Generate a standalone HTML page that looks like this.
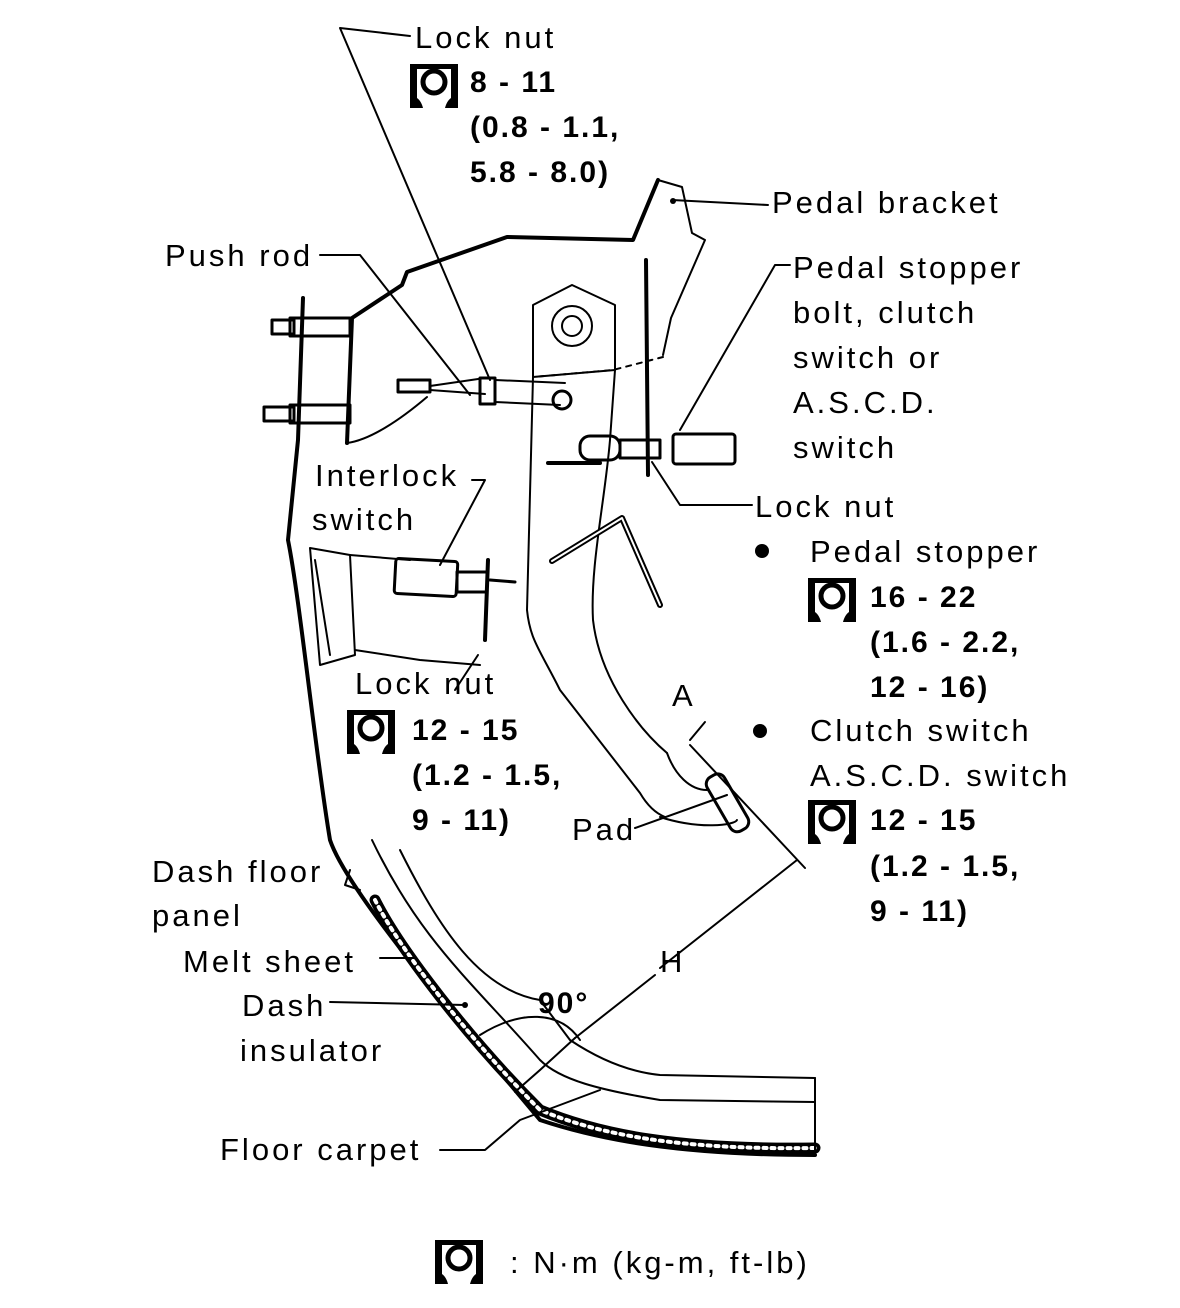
<!DOCTYPE html>
<html><head><meta charset="utf-8"><style>
html,body{margin:0;padding:0;background:#fff}
svg{display:block}
text{font-family:"Liberation Sans",sans-serif;font-size:31px;letter-spacing:3px;fill:#000}
.b{font-weight:bold;font-size:30px;letter-spacing:2px}
</style></head><body>
<svg width="1180" height="1308" viewBox="0 0 1180 1308" xmlns="http://www.w3.org/2000/svg">
<defs>
<g id="tq">
<rect x="0" y="0" width="48" height="44" fill="#000"/>
<path d="M7 5 H41 V34 C38 36 36 40 35 44 H13 C12 40 10 36 7 34 Z" fill="#fff"/>
<circle cx="24" cy="18" r="11" fill="none" stroke="#000" stroke-width="5"/>
</g>
</defs>
<g fill="none" stroke="#000" stroke-linecap="round" stroke-linejoin="round">
<path d="M347 443 L352 318 L402 285 L407 272 L507 237 L633 240 L658 180" stroke-width="4"/>
<path d="M658 180 L682 187 L692 233 L705 240 L671 318 L663 355" stroke-width="2"/>
<path d="M663 357 L613 370 L533 377" stroke-width="2" stroke-dasharray="5,6"/>
<path d="M347 443 C370 440 400 420 427 397" stroke-width="2"/>
<path d="M303 298 L298 440 L288 540 C300 600 315 750 330 840 C340 870 380 930 540 1120 C600 1140 680 1155 815 1155" stroke-width="4"/>
<path d="M375 900 C400 950 470 1040 540 1110 C600 1135 680 1150 815 1148" stroke-width="11"/>
<path d="M375 900 C400 950 470 1040 540 1110 C600 1135 680 1150 815 1148" stroke="#fff" stroke-width="4" stroke-dasharray="3,5"/>
<rect x="290" y="318" width="60" height="18" stroke-width="3"/>
<rect x="290" y="405" width="60" height="18" stroke-width="3"/>
<rect x="272" y="320" width="22" height="14" stroke-width="3"/>
<rect x="264" y="407" width="30" height="14" stroke-width="3"/>
<path d="M400 850 C440 930 480 990 540 1000 L570 1040 C600 1060 630 1072 660 1075 L815 1078" stroke-width="2"/>
<path d="M372 840 C420 940 470 980 540 1060 C560 1080 600 1090 660 1100 L815 1102" stroke-width="2"/>
<path d="M815 1078 L815 1155" stroke-width="2"/>
<path d="M533 305 L572 285 L615 305 L615 370 L533 377 Z" stroke-width="2"/>
<circle cx="572" cy="326" r="20" stroke-width="2"/>
<circle cx="572" cy="326" r="10" stroke-width="2"/>
<path d="M533 377 L527 610 C530 640 540 650 560 690 L640 793 C650 810 660 815 665 817" stroke-width="2"/>
<path d="M615 370 L610 440 C605 500 590 567 593 620 C600 680 640 730 667 753" stroke-width="2"/>
<path d="M667 753 C675 775 690 790 707 790" stroke-width="2"/>
<path d="M660 817 C700 830 735 825 737 820" stroke-width="2"/>
<rect x="-10" y="-30" width="20" height="62" rx="8" transform="translate(727 802) rotate(-30)" stroke-width="3"/>
<path d="M398 380 L430 380 L430 392 L398 392 Z" stroke-width="3"/>
<path d="M430 386 L485 378 M430 390 L485 394" stroke-width="2"/>
<rect x="480" y="378" width="15" height="26" stroke-width="3"/>
<path d="M495 380 L565 383 M495 402 L560 405" stroke-width="2"/>
<circle cx="562" cy="400" r="9" stroke-width="3"/>
<path d="M646 260 L648 475" stroke-width="4"/>
<path d="M548 463 L600 463" stroke-width="4"/>
<rect x="580" y="436" width="40" height="24" rx="10" stroke-width="3"/>
<rect x="620" y="440" width="40" height="18" stroke-width="3"/>
<rect x="673" y="434" width="62" height="30" rx="3" stroke-width="3"/>
<path d="M552 561 L622 518 L660 605" stroke-width="6"/>
<path d="M552 561 L622 518 L660 605" stroke="#fff" stroke-width="2"/>
<path d="M310 548 L350 555 L355 655 L320 665 Z" stroke-width="2"/>
<path d="M315 560 L330 655" stroke-width="2"/>
<path d="M350 555 L410 560 M355 650 L420 660 L480 665" stroke-width="2"/>
<rect x="395" y="560" width="62" height="35" rx="3" stroke-width="3" transform="rotate(3 426 577)"/>
<rect x="457" y="572" width="30" height="20" stroke-width="3"/>
<path d="M488 560 L485 640" stroke-width="4"/>
<path d="M490 580 L515 582" stroke-width="3"/>
<g stroke-width="2">
<path d="M410 36 L340 28 M340 28 L490 380"/>
<path d="M768 205 L672 200"/>
<path d="M320 255 L360 255 L470 395"/>
<path d="M790 265 L775 265 L680 430"/>
<path d="M752 505 L680 505 L652 462"/>
<path d="M472 480 L485 480 L440 565"/>
<path d="M478 655 L455 690"/>
<path d="M350 870 L345 885 L360 890"/>
<path d="M380 958 L415 958"/>
<path d="M330 1002 L465 1005"/>
<path d="M440 1150 L485 1150 L520 1120 L600 1090"/>
<path d="M635 828 L727 795"/>
<path d="M690 745 L805 868"/>
<path d="M797 860 L660 968 M575 1038 L655 975"/>
<path d="M575 1038 L540 1070 L515 1092"/>
<path d="M690 740 L705 722"/>
<path d="M480 1035 C520 1010 560 1010 580 1040"/>
</g>
</g>
<circle cx="762" cy="551" r="7"/>
<circle cx="760" cy="731" r="7"/>
<circle cx="673" cy="201" r="3"/>
<circle cx="465" cy="1005" r="3"/>
<text x="415" y="48">Lock nut</text>
<use href="#tq" x="410" y="64"/>
<text class="b" x="470" y="92">8 - 11</text>
<text class="b" x="470" y="137">(0.8 - 1.1,</text>
<text class="b" x="470" y="182">5.8 - 8.0)</text>
<text x="772" y="213">Pedal bracket</text>
<text x="165" y="266">Push rod</text>
<text x="793" y="278">Pedal stopper</text>
<text x="793" y="323">bolt, clutch</text>
<text x="793" y="368">switch or</text>
<text x="793" y="413">A.S.C.D.</text>
<text x="793" y="458">switch</text>
<text x="315" y="486">Interlock</text>
<text x="312" y="530">switch</text>
<text x="755" y="517">Lock nut</text>
<text x="810" y="562">Pedal stopper</text>
<use href="#tq" x="808" y="578"/>
<text class="b" x="870" y="607">16 - 22</text>
<text class="b" x="870" y="652">(1.6 - 2.2,</text>
<text class="b" x="870" y="697">12 - 16)</text>
<text x="672" y="706">A</text>
<text x="355" y="694">Lock nut</text>
<use href="#tq" x="347" y="710"/>
<text class="b" x="412" y="740">12 - 15</text>
<text class="b" x="412" y="785">(1.2 - 1.5,</text>
<text class="b" x="412" y="830">9 - 11)</text>
<text x="810" y="741">Clutch switch</text>
<text x="810" y="786">A.S.C.D. switch</text>
<use href="#tq" x="808" y="800"/>
<text class="b" x="870" y="830">12 - 15</text>
<text class="b" x="870" y="876">(1.2 - 1.5,</text>
<text class="b" x="870" y="921">9 - 11)</text>
<text x="572" y="840">Pad</text>
<text x="152" y="882">Dash floor</text>
<text x="152" y="926">panel</text>
<text x="183" y="972">Melt sheet</text>
<text x="242" y="1016">Dash</text>
<text x="240" y="1061">insulator</text>
<text x="660" y="972">H</text>
<text class="b" x="538" y="1013">90°</text>
<text x="220" y="1160">Floor carpet</text>
<use href="#tq" x="435" y="1240"/>
<text x="510" y="1273">:  N·m (kg-m, ft-lb)</text>
</svg>
</body></html>
